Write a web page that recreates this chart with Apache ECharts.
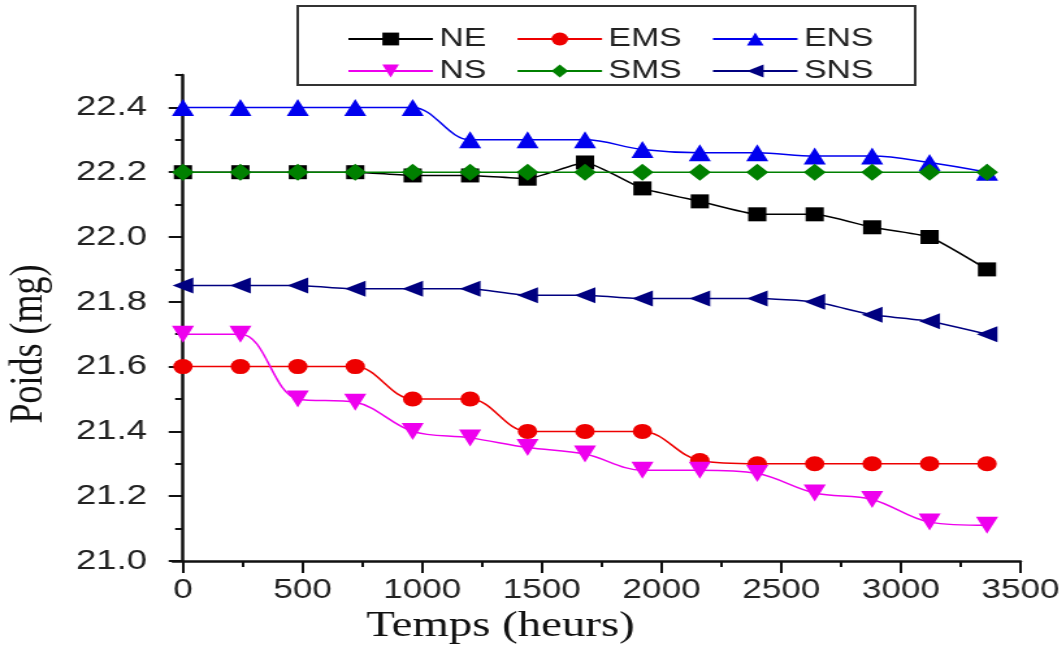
<!DOCTYPE html>
<html>
<head>
<meta charset="utf-8">
<script src="https://cdn.jsdelivr.net/npm/echarts@6/dist/echarts.min.js"></script>
<style>
  html, body { margin: 0; padding: 0; background: #fff; overflow: hidden; }
  /* the source figure is stretched horizontally, so the chart is too */
  #chart { width: 817px; height: 653px; transform: scaleX(1.3); transform-origin: 0 0; }
</style>
</head>
<body>
<div id="chart"></div>
<script>
const hours = [0, 240, 480, 720, 960, 1200, 1440, 1680, 1920, 2160, 2400, 2640, 2880, 3120, 3360];

const NE  = [22.20, 22.20, 22.20, 22.20, 22.19, 22.19, 22.18, 22.23, 22.15, 22.11, 22.07, 22.07, 22.03, 22.00, 21.90];
const EMS = [21.60, 21.60, 21.60, 21.60, 21.50, 21.50, 21.40, 21.40, 21.40, 21.31, 21.30, 21.30, 21.30, 21.30, 21.30];
const ENS = [22.40, 22.40, 22.40, 22.40, 22.40, 22.30, 22.30, 22.30, 22.27, 22.26, 22.26, 22.25, 22.25, 22.23, 22.20];
const NS  = [21.70, 21.70, 21.50, 21.49, 21.40, 21.38, 21.35, 21.33, 21.28, 21.28, 21.27, 21.21, 21.19, 21.12, 21.11];
const SMS = [22.20, 22.20, 22.20, 22.20, 22.20, 22.20, 22.20, 22.20, 22.20, 22.20, 22.20, 22.20, 22.20, 22.20, 22.20];
const SNS = [21.85, 21.85, 21.85, 21.84, 21.84, 21.84, 21.82, 21.82, 21.81, 21.81, 21.81, 21.80, 21.76, 21.74, 21.70];

const xMajor = [0, 500, 1000, 1500, 2000, 2500, 3000, 3500];
const xMinor = [250, 750, 1250, 1750, 2250, 2750, 3250];
const yMajor = [21.0, 21.2, 21.4, 21.6, 21.8, 22.0, 22.2, 22.4];
const yMinor = [21.1, 21.3, 21.5, 21.7, 21.9, 22.1, 22.3, 22.5];

const textColor = '#222';

const makeSeries = (name, values, color, symbol, size, rotate, smooth) => ({
  name: name,
  type: 'line',
  data: hours.map((h, i) => [h, values[i]]),
  symbol: symbol,
  symbolSize: size,
  symbolRotate: rotate,
  smooth: smooth,
  lineStyle: { color: color, width: 1.5 },
  itemStyle: { color: color },
  emphasis: { disabled: true }
});

const legendBase = {
  left: 267,
  padding: 0,
  itemWidth: 65,
  itemHeight: 16,
  itemGap: 23,
  textStyle: { fontFamily: 'Liberation Sans', fontSize: 26, color: textColor }
};

const hiddenAxisParts = {
  axisLine: { show: false },
  axisLabel: { show: false },
  splitLine: { show: false }
};

const option = {
  animation: false,
  backgroundColor: '#fff',
  grid: { left: 133, right: 32, top: 75, bottom: 92, outerBoundsMode: 'none' },
  legend: [
    Object.assign({ top: 26, data: ['NE', 'EMS', 'ENS'] }, legendBase),
    Object.assign({ top: 58, data: ['NS', 'SMS', 'SNS'] }, legendBase)
  ],
  graphic: [{
    type: 'rect',
    shape: { x: 229, y: 6, width: 475, height: 79 },
    style: { fill: 'none', stroke: '#333', lineWidth: 2 },
    silent: true
  }],
  xAxis: [
    {
      type: 'value', min: -42, max: 3500,
      name: 'Temps (heurs)', nameLocation: 'middle', nameGap: 48,
      nameTextStyle: { fontFamily: 'Liberation Serif', fontSize: 36, color: '#111', padding: [0, 148, 0, 0] },
      axisLine: { lineStyle: { color: '#111', width: 2.5 } },
      axisTick: { customValues: xMajor, length: 12, lineStyle: { color: '#111', width: 2 } },
      axisLabel: {
        customValues: xMajor, margin: 16,
        fontFamily: 'Liberation Sans', fontSize: 27, color: textColor,
        formatter: v => String(v)
      },
      splitLine: { show: false }
    },
    Object.assign({
      type: 'value', min: -42, max: 3500, position: 'bottom',
      axisTick: { customValues: xMinor, length: 6, lineStyle: { color: '#111', width: 2 } }
    }, hiddenAxisParts)
  ],
  yAxis: [
    {
      type: 'value', min: 21.0, max: 22.5,
      name: 'Poids (mg)', nameLocation: 'middle', nameGap: 92,
      nameTextStyle: { fontFamily: 'Liberation Serif', fontSize: 36, color: '#111', padding: [0, 52, 0, 0] },
      axisLine: { show: true, lineStyle: { color: '#111', width: 2.5 } },
      axisTick: { show: true, customValues: yMajor, length: 11, lineStyle: { color: '#111', width: 2 } },
      axisLabel: {
        customValues: yMajor, margin: 20,
        fontFamily: 'Liberation Sans', fontSize: 28, color: textColor,
        formatter: v => v.toFixed(1)
      },
      splitLine: { show: false }
    },
    Object.assign({
      type: 'value', min: 21.0, max: 22.5, position: 'left', offset: 0,
      axisTick: { show: true, customValues: yMinor, length: 6, lineStyle: { color: '#111', width: 2 } }
    }, hiddenAxisParts)
  ],
  series: [
    makeSeries('NE', NE, '#000000', 'rect', 14, 0, 0.15),
    makeSeries('EMS', EMS, '#ee0000', 'circle', 15, 0, 0.35),
    makeSeries('ENS', ENS, '#0000ee', 'triangle', 17, 0, 0.35),
    makeSeries('NS', NS, '#ee00ee', 'triangle', 17, 180, 0.35),
    makeSeries('SMS', SMS, '#008000', 'diamond', 17, 0, 0.2),
    makeSeries('SNS', SNS, '#000080', 'triangle', 16, 90, 0.15)
  ]
};

const chart = echarts.init(document.getElementById('chart'));
chart.setOption(option);
</script>
</body>
</html>
